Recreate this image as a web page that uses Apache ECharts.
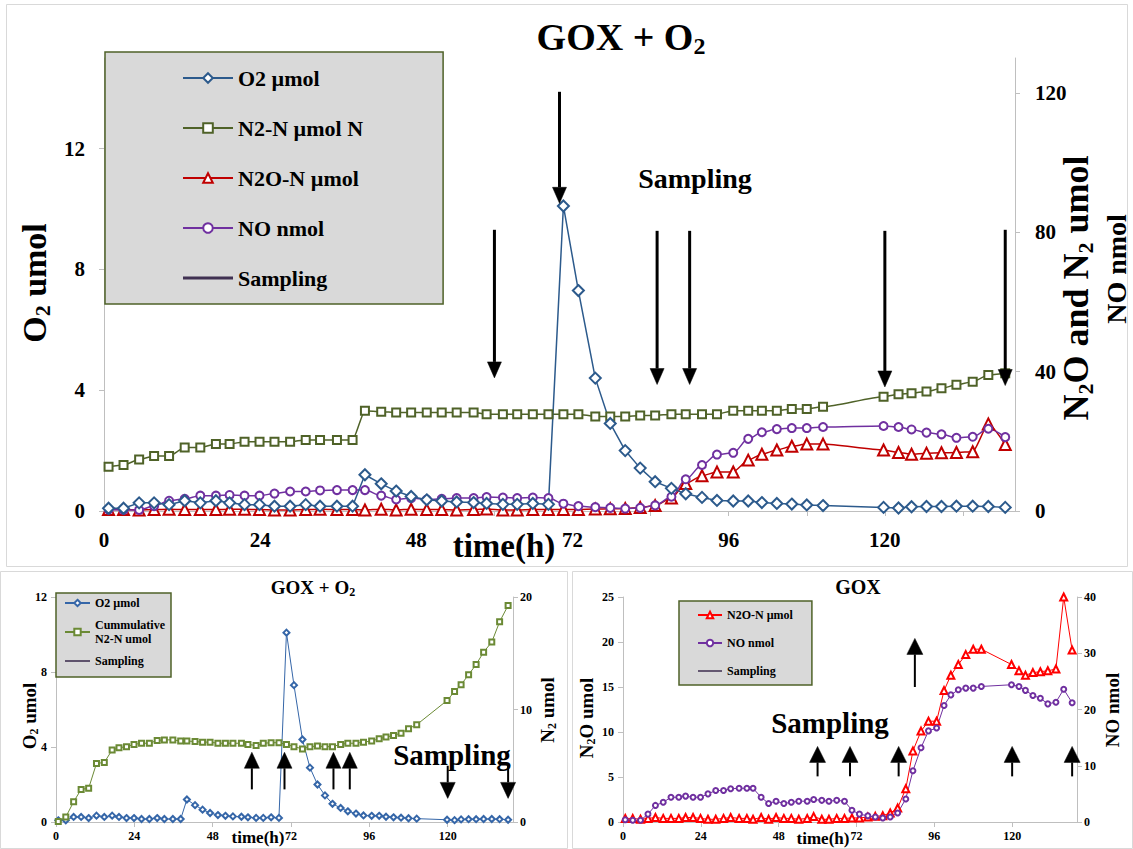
<!DOCTYPE html>
<html><head><meta charset="utf-8">
<script src="https://cdn.jsdelivr.net/npm/echarts@6/dist/echarts.min.js"></script>
<style>html,body{margin:0;padding:0;background:#fff}#c{width:1133px;height:849px}</style>
</head><body><div id="c"></div>
<script>
// ---- data ----
const hours = [0.7, 3.0, 5.4, 7.7, 10.0, 12.4, 14.8, 17.2, 19.3, 21.6, 23.9, 26.2, 28.6, 31.0, 33.2, 35.8, 38.2,
  40.1, 42.6, 44.9, 47.2, 49.6, 51.9, 54.2, 56.8, 58.8, 61.3, 63.5, 65.9, 68.3,
  70.6, 72.9, 75.5, 77.8, 80.1, 82.4, 84.7, 87.2, 89.4, 91.9, 94.2, 96.7, 99.0, 101.1, 103.4, 105.7, 108.0, 110.5,
  119.8, 122.1, 124.1, 126.4, 128.7, 131.0, 133.5, 135.9, 138.5];
const o2Umol = [0.09, 0.09, 0.27, 0.27, 0.21, 0.34, 0.27, 0.34, 0.27, 0.21, 0.21, 0.16, 0.16, 0.21, 0.16, 0.16, 0.16,
  1.2, 0.9, 0.66, 0.48, 0.37, 0.33, 0.3, 0.28, 0.25, 0.22, 0.22, 0.25, 0.22,
  10.1, 7.3, 4.4, 2.9, 2.0, 1.42, 0.97, 0.75, 0.57, 0.45, 0.35, 0.33, 0.33, 0.28, 0.25, 0.23, 0.2, 0.18,
  0.12, 0.1, 0.14, 0.15, 0.15, 0.16, 0.16, 0.15, 0.12];
const n2NUmolN = [12.7, 13.2, 14.8, 15.8, 15.8, 18.2, 18.2, 19.2, 19.2, 19.9, 19.9, 19.9, 19.9, 20.4, 20.4, 20.4, 20.4,
  28.8, 28.5, 28.3, 28.3, 28.3, 28.3, 28.3, 28.3, 27.8, 27.8, 27.8, 27.8, 27.8,
  27.8, 27.8, 27.1, 27.1, 27.1, 27.4, 27.4, 27.8, 27.8, 27.8, 27.8, 28.8, 28.8, 28.8, 28.8, 29.3, 29.3, 29.9,
  32.8, 33.5, 33.8, 34.3, 35.2, 36.2, 37.1, 39.0, 39.5];
const n2oNUmol = [0.4, 0.4, 0.3, 0.4, 0.5, 0.4, 0.4, 0.4, 0.5, 0.5, 0.4, 0.3, 0.3, 0.4, 0.5, 0.4, 0.4,
  0.3, 0.5, 0.3, 0.5, 0.4, 0.4, 0.3, 0.4, 0.6, 0.3, 0.3, 0.4, 0.4,
  0.45, 0.45, 0.55, 0.63, 0.7, 1.0, 1.55, 3.7, 7.9, 10.1, 11.2, 11.2, 14.6, 16.3, 17.5, 18.6, 19.2, 19.2,
  17.5, 16.8, 16.3, 16.6, 16.7, 16.8, 17.0, 25.0, 19.1];
const noNmol = [0.4, 0.3, 0.3, 1.4, 2.95, 3.5, 4.4, 4.4, 4.6, 4.4, 4.4, 5.0, 5.6, 5.6, 5.9, 6.0, 6.0,
  6.0, 4.4, 3.3, 3.7, 3.3, 3.5, 3.7, 3.7, 4.0, 3.85, 3.7, 3.85, 3.7,
  2.1, 1.4, 1.1, 0.9, 0.7, 0.9, 1.6, 4.1, 9.1, 13.2, 16.2, 16.7, 20.7, 22.6, 23.5, 23.8, 23.8, 24.1,
  24.4, 24.1, 23.4, 22.5, 22.0, 21.0, 21.3, 23.6, 21.2];
const n2CumUmol = [0.05, 0.44, 1.8, 2.9, 3.0, 5.2, 5.3, 6.4, 6.6, 6.7, 6.9, 7.0, 7.0, 7.25, 7.3, 7.3, 7.2,
  7.2, 7.15, 7.1, 7.1, 7.0, 7.0, 7.0, 7.0, 6.9, 6.8, 7.0, 7.05, 7.05,
  6.9, 6.7, 6.5, 6.7, 6.75, 6.7, 6.7, 6.9, 7.0, 7.0, 7.1, 7.2, 7.4, 7.55, 7.7, 7.9, 8.3, 8.65,
  10.8, 11.6, 12.2, 13.1, 14.0, 15.1, 16.0, 17.8, 19.25];
const samplingHours = [60, 70, 85, 90, 120, 138.5];
// arrow tail / tip values, in the units of the axis each panel's arrows use
const mainArrowTail = [80.7, 120.3, 80.4, 80.4, 80.4, 80.7];
const mainArrowTip = [38.2, 88.3, 36.3, 36.3, 35.6, 36.0];
const goxO2ArrowTail = [2.9, 2.9, 2.9, 2.9, 5.0, 5.0];
const goxO2ArrowTip = [6.2, 6.2, 6.2, 6.2, 2.1, 2.1];
const goxArrowTail = [5.07, 5.07, 5.07, 15.0, 5.07, 5.07];
const goxArrowTip = [8.4, 8.4, 8.4, 20.4, 8.4, 8.4];
const xTickLabels = [0, 24, 48, 72, 96, 120];

// ---- chart ----
const F = "'Liberation Serif','Times New Roman',serif";
const GRAY = '#bfbfbf';
const pairs = (ys) => hours.map((h, i) => [h, ys[i]]);

function xAx(grid, fs, margin, interval) {
  return {gridIndex: grid, type: 'value', min: 0, max: 140, interval: interval,
    axisLine: {show: true, lineStyle: {color: GRAY, width: 1}},
    axisTick: {show: true, length: 5, lineStyle: {color: GRAY}},
    splitLine: {show: false},
    axisLabel: {fontFamily: F, fontWeight: 'bold', fontSize: fs, color: '#000', margin: margin,
      showMaxLabel: false, formatter: v => xTickLabels.indexOf(v) >= 0 ? String(v) : ''}};
}
function yAx(grid, pos, max, interval, fs, margin) {
  return {gridIndex: grid, type: 'value', position: pos, min: 0, max: max, interval: interval,
    axisLine: {show: true, lineStyle: {color: GRAY, width: 1}},
    axisTick: {show: true, length: 5, lineStyle: {color: GRAY}},
    splitLine: {show: false},
    axisLabel: {fontFamily: F, fontWeight: 'bold', fontSize: fs, color: '#000', margin: margin,
      showMaxLabel: max % interval === 0}};
}
function lineS(name, xi, yi, ys, color, symbol, size, lw, bw, smooth) {
  return {type: 'line', name: name, xAxisIndex: xi, yAxisIndex: yi, data: pairs(ys),
    color: color, symbol: symbol, symbolSize: size, smooth: smooth || false, smoothMonotone: 'x',
    lineStyle: {color: color, width: lw}, itemStyle: {color: color, borderColor: color, borderWidth: bw},
    animation: false};
}
function arrowS(name, xi, yi, tails, tips, headW, headH, shaft) {
  return {type: 'custom', name: name, xAxisIndex: xi, yAxisIndex: yi, silent: true, animation: false,
    itemStyle: {color: '#403152'}, z: 6,
    data: samplingHours.map((h, i) => [h, tails[i], tips[i]]),
    encode: {x: 0, y: [1, 2]},
    renderItem: function (params, api) {
      const x = api.value(0);
      const p1 = api.coord([x, api.value(1)]);
      const p2 = api.coord([x, api.value(2)]);
      const dir = p2[1] > p1[1] ? 1 : -1;
      const baseY = p2[1] - dir * headH;
      return {type: 'group', children: [
        {type: 'line', shape: {x1: p1[0], y1: p1[1], x2: p1[0], y2: baseY}, style: {stroke: '#000', lineWidth: shaft}},
        {type: 'polygon', shape: {points: [[p2[0] - headW / 2, baseY], [p2[0] + headW / 2, baseY], [p2[0], p2[1]]]},
          style: {fill: '#000', stroke: '#000', lineWidth: 0.5}}
      ]};
    }};
}
const SAMPLING_ICON = 'path://M0,0L50,0L50,3.2L0,3.2Z';
function legendBox(left, top, items, fs, lh, iw, ih, gap, padding) {
  return {show: true, orient: 'vertical', left: left, top: top, selectedMode: false,
    itemWidth: iw, itemHeight: ih, itemGap: gap, padding: padding,
    backgroundColor: '#d9d9d9', borderColor: '#4f6228', borderWidth: 1.5, borderRadius: 0,
    textStyle: {fontFamily: F, fontWeight: 'bold', fontSize: fs, lineHeight: lh, color: '#000'},
    data: items.map(n => n.trim() === 'Sampling' ? {name: n, icon: SAMPLING_ICON} : {name: n})};
}
function txt(x, y, text, fs, rot, extra) {
  const st = Object.assign({text: text, fontFamily: F, fontWeight: 'bold', fontSize: fs, fill: '#000',
    align: 'center', verticalAlign: 'middle', textAlign: 'center', textVerticalAlign: 'middle'}, extra || {});
  return {type: 'text', x: x, y: y, rotation: rot || 0, style: st, z: 10};
}
function subTxt(x, y, text, fs, sfs, lh, slh, rot) {
  return txt(x, y, text, fs, rot, {rich: {
    a: {fontFamily: F, fontWeight: 'bold', fontSize: fs, lineHeight: lh, fill: '#000'},
    s: {fontFamily: F, fontWeight: 'bold', fontSize: sfs, lineHeight: slh, verticalAlign: 'bottom', fill: '#000'}}});
}
const R = Math.PI / 2;

const option = {
  backgroundColor: '#fff',
  animation: false,
  grid: [
    {left: 104, top: 58, width: 911, height: 453, outerBoundsMode: 'none', containLabel: false},
    {left: 56, top: 597, width: 457, height: 225, outerBoundsMode: 'none', containLabel: false},
    {left: 623, top: 597, width: 454, height: 225, outerBoundsMode: 'none', containLabel: false}
  ],
  xAxis: [xAx(0, 21, 18, 12), xAx(1, 12, 8, 24), xAx(2, 12, 8, 24)],
  yAxis: [
    yAx(0, 'left', 15, 4, 21, 19), yAx(0, 'right', 130, 40, 21, 20),
    yAx(1, 'left', 12, 4, 12, 9), yAx(1, 'right', 20, 10, 12, 7),
    yAx(2, 'left', 25, 5, 12, 9), yAx(2, 'right', 40, 10, 12, 7)
  ],
  legend: [
    legendBox(105, 52, ['O2 µmol', 'N2-N µmol N', 'N2O-N µmol', 'NO nmol', 'Sampling'], 22, 22, 50, 12, 28, [15, 80, 15, 77]),
    legendBox(56, 593, ['O2 µmol ', 'Cummulative\nN2-N umol', 'Sampling '], 12, 14, 25, 8, 8, [3, 6, 9, 8]),
    legendBox(679, 601, ['N2O-N µmol ', 'NO nmol ', 'Sampling  '], 12, 14, 24, 8, 14, [7, 16, 7, 18])
  ],
  series: [
    lineS('N2-N µmol N', 0, 1, n2NUmolN, '#4f6228', 'emptyRect', 8, 1.5, 1.5, 0.2),
    lineS('N2O-N µmol', 0, 1, n2oNUmol, '#c00000', 'emptyTriangle', 11, 1.5, 1.5, 0.2),
    lineS('NO nmol', 0, 1, noNmol, '#7030a0', 'emptyCircle', 8, 1.5, 1.5, 0.3),
    lineS('O2 µmol', 0, 0, o2Umol, '#2c5a8c', 'emptyDiamond', 11, 1.5, 1.5, false),
    arrowS('Sampling', 0, 1, mainArrowTail, mainArrowTip, 14, 16, 3),

    lineS('O2 µmol ', 1, 2, o2Umol, '#3566a8', 'emptyDiamond', 6, 1, 1, false),
    lineS('Cummulative\nN2-N umol', 1, 3, n2CumUmol, '#6b8a35', 'emptyRect', 5, 1, 1, false),
    arrowS('Sampling ', 1, 3, goxO2ArrowTail, goxO2ArrowTip, 15, 16, 2),

    lineS('N2O-N µmol ', 2, 4, n2oNUmol, '#ff0000', 'emptyTriangle', 7, 1, 1, false),
    lineS('NO nmol ', 2, 5, noNmol, '#7030a0', 'emptyCircle', 5, 1, 1, false),
    arrowS('Sampling  ', 2, 4, goxArrowTail, goxArrowTip, 16, 16, 2)
  ],
  graphic: {elements: [
    {type: 'rect', shape: {x: 6.5, y: 4.5, width: 1121, height: 562}, style: {fill: 'none', stroke: '#d9d9d9', lineWidth: 1}, z: 0},
    {type: 'rect', shape: {x: 0.5, y: 571.5, width: 567, height: 277}, style: {fill: 'none', stroke: '#d9d9d9', lineWidth: 1}, z: 0},
    {type: 'rect', shape: {x: 572.5, y: 571.5, width: 560, height: 277}, style: {fill: 'none', stroke: '#d9d9d9', lineWidth: 1}, z: 0},
    // titles
    subTxt(621, 37, '{a|GOX + O}{s|2}', 38, 24, 42, 20, 0),
    subTxt(313, 587, '{a|GOX + O}{s|2}', 19, 12, 22, 12, 0),
    txt(858, 587, 'GOX', 20, 0),
    // axis names
    subTxt(34, 283, '{a|O}{s|2}{a| umol}', 34, 22, 38, 20, R),
    subTxt(1076, 288, '{a|N}{s|2}{a|O and N}{s|2}{a| umol}', 36, 22, 40, 22, R),
    txt(1116, 269, 'NO nmol', 28, R),
    subTxt(29, 716, '{a|O}{s|2}{a| umol}', 19, 12, 22, 12, R),
    subTxt(547, 710, '{a|N}{s|2}{a| umol}', 19, 12, 22, 12, R),
    subTxt(586, 718, '{a|N}{s|2}{a|O umol}', 19, 12, 22, 12, R),
    txt(1112, 710, 'NO nmol', 19, R),
    // x axis names
    txt(504, 546, 'time(h)', 33, 0),
    txt(258, 837, 'time(h)', 17, 0),
    txt(823, 838, 'time(h)', 17, 0),
    // sampling annotations
    txt(695, 178, 'Sampling', 28, 0),
    txt(452, 755, 'Sampling', 29, 0),
    txt(830, 723, 'Sampling', 29, 0)
  ]}
};
const chart = echarts.init(document.getElementById('c'), null, {renderer: 'svg', width: 1133, height: 849});
chart.setOption(option);
</script>
</body></html>
